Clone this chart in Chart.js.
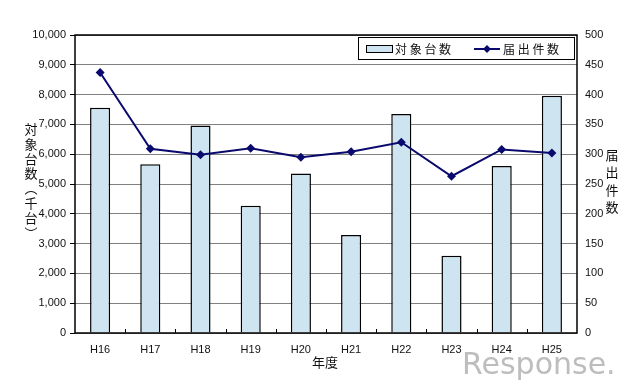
<!DOCTYPE html>
<html>
<head>
<meta charset="utf-8">
<script src="https://cdn.jsdelivr.net/npm/chart.js@4.4.1/dist/chart.umd.min.js"></script>
<style>
    html, body { margin: 0; padding: 0; background: #fff; }
    #wrap { position: relative; width: 640px; height: 386px; }
    #watermark {
        position: absolute; left: 462px; top: 346px;
        font-family: 'DejaVu Sans', sans-serif;
        font-size: 30px; color: #bdbdbd; letter-spacing: 0px;
    }
</style>
</head>
<body>
<div id="wrap">
    <canvas id="grafico" width="640" height="386"></canvas>
    <div id="watermark">Response.</div>
</div>
<script>
// datos
const anios = ['H16', 'H17', 'H18', 'H19', 'H20', 'H21', 'H22', 'H23', 'H24', 'H25'];
const objetoMiles = [7560, 5660, 6960, 4270, 5350, 3290, 7350, 2590, 5600, 7960];
const notificaciones = [437, 309, 299, 310, 295, 304, 320, 263, 308, 302];

const ticksIzq = [0, 1000, 2000, 3000, 4000, 5000, 6000, 7000, 8000, 9000, 10000];
const ticksDer = [0, 50, 100, 150, 200, 250, 300, 350, 400, 450, 500];

const COLORES = {
    BARRA: '#cfe4f1',
    LINEA: '#0a0a6e',
    TEXTO: '#111',
    GRID: '#808080'
};

const FUENTE = "'Liberation Sans', Arial, sans-serif";
const FUENTE_JP = "'Noto Sans CJK JP', sans-serif";

// titulos verticales, el marco, marcas del eje x y la leyenda
const extras = {
    id: 'extras',
    afterDatasetsDraw(chart) {
        const { ctx, chartArea: a, scales } = chart;
        ctx.save();

        // marco
        ctx.strokeStyle = '#000';
        ctx.lineWidth = 1.5;
        ctx.strokeRect(a.left, a.top, a.right - a.left, a.bottom - a.top);

        // marcas pequenas entre categorias
        ctx.lineWidth = 1;
        for (let i = 1; i < anios.length; i++) {
            const x = Math.round((scales.x.getPixelForValue(i - 1) + scales.x.getPixelForValue(i)) / 2) + 0.5;
            ctx.beginPath();
            ctx.moveTo(x, a.bottom);
            ctx.lineTo(x, a.bottom - 4);
            ctx.stroke();
        }

        // titulos verticales
        ctx.fillStyle = COLORES.TEXTO;
        ctx.font = '13px ' + FUENTE_JP;
        ctx.textAlign = 'center';
        ctx.textBaseline = 'middle';
        const izq = ['対', '象', '台', '数', '︵', '千', '台', '︶'];
        izq.forEach((c, i) => ctx.fillText(c, 31, 129 + i * 14.8));
        const der = ['届', '出', '件', '数'];
        der.forEach((c, i) => ctx.fillText(c, 612, 155 + i * 17.5));

        // titulo eje x
        ctx.fillText('年度', 325, 362);

        // leyenda
        const lx = 358, ly = 37, lw = 216, lh = 22;
        ctx.fillStyle = '#fff';
        ctx.fillRect(lx, ly, lw, lh);
        ctx.strokeStyle = '#000';
        ctx.lineWidth = 1;
        ctx.strokeRect(lx + 0.5, ly + 0.5, lw, lh);

        ctx.fillStyle = COLORES.BARRA;
        ctx.fillRect(lx + 8, ly + 8, 26, 7);
        ctx.strokeRect(lx + 8.5, ly + 8.5, 26, 7);

        ctx.fillStyle = COLORES.TEXTO;
        ctx.font = '12px ' + FUENTE_JP;
        ctx.textAlign = 'left';
        ctx.fillText('対 象 台 数', lx + 37, ly + 12);

        ctx.strokeStyle = COLORES.LINEA;
        ctx.lineWidth = 2;
        ctx.beginPath();
        ctx.moveTo(lx + 116, ly + 12);
        ctx.lineTo(lx + 142, ly + 12);
        ctx.stroke();
        ctx.fillStyle = COLORES.LINEA;
        ctx.beginPath();
        ctx.moveTo(lx + 129, ly + 8);
        ctx.lineTo(lx + 133, ly + 12);
        ctx.lineTo(lx + 129, ly + 16);
        ctx.lineTo(lx + 125, ly + 12);
        ctx.closePath();
        ctx.fill();

        ctx.fillStyle = COLORES.TEXTO;
        ctx.fillText('届 出 件 数', lx + 145, ly + 12);

        ctx.restore();
    }
};

new Chart(document.getElementById('grafico'), {
    data: {
        labels: anios,
        datasets: [
            {
                type: 'line',
                label: '届出件数',
                data: notificaciones,
                yAxisID: 'yDer',
                borderColor: COLORES.LINEA,
                backgroundColor: COLORES.LINEA,
                borderWidth: 2,
                pointStyle: 'rectRot',
                pointRadius: 4.5,
                pointBorderWidth: 0,
                tension: 0,
                order: 0
            },
            {
                type: 'bar',
                label: '対象台数',
                data: objetoMiles,
                yAxisID: 'yIzq',
                backgroundColor: COLORES.BARRA,
                borderColor: '#000',
                borderWidth: 1.5,
                barPercentage: 0.4,
                categoryPercentage: 1,
                order: 1
            }
        ]
    },
    options: {
        responsive: false,
        animation: false,
        layout: { padding: { top: 35, left: 0, right: 0, bottom: 0 } },
        plugins: {
            legend: { display: false },
            tooltip: { enabled: false }
        },
        scales: {
            x: {
                offset: true,
                grid: { display: false },
                border: { display: false },
                ticks: { color: COLORES.TEXTO, font: { family: FUENTE, size: 11 }, padding: 2 },
                afterFit: s => { s.height = 53; }
            },
            yIzq: {
                position: 'left',
                min: 0, max: 10000,
                afterBuildTicks: s => { s.ticks = ticksIzq.map(v => ({ value: v })); },
                grid: { color: COLORES.GRID, lineWidth: 1, tickLength: 5, tickColor: '#000' },
                border: { display: false },
                ticks: {
                    color: COLORES.TEXTO,
                    font: { family: FUENTE, size: 11 },
                    padding: 4,
                    callback: v => v.toLocaleString('en-US')
                },
                afterFit: s => { s.width = 75; }
            },
            yDer: {
                position: 'right',
                min: 0, max: 500,
                afterBuildTicks: s => { s.ticks = ticksDer.map(v => ({ value: v })); },
                grid: { drawOnChartArea: false, tickLength: 0 },
                border: { display: false },
                ticks: { color: COLORES.TEXTO, font: { family: FUENTE, size: 11 }, padding: 8 },
                afterFit: s => { s.width = 63; }
            }
        }
    },
    plugins: [extras]
});
</script>
</body>
</html>
